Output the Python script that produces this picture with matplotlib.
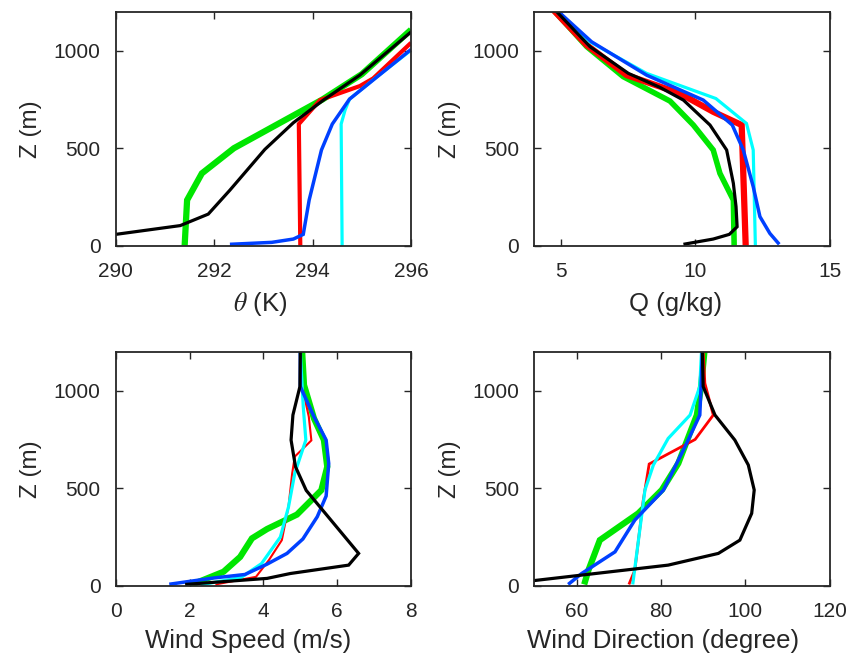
import matplotlib
matplotlib.use("Agg")
import matplotlib.pyplot as plt

plt.rcParams['font.family'] = ['Liberation Sans', 'DejaVu Sans']
plt.rcParams['mathtext.fontset'] = 'stix'

# ---- potential temperature profiles (K) vs height (m) ----
theta_black_x = [288.6, 290.0, 291.31, 291.88, 292.32, 293.03, 293.61, 294.22, 294.96, 296.0]
theta_black_z = [10, 58, 103, 162, 285, 494, 631, 747, 875, 1097]
theta_green_x = [291.4, 291.45, 291.75, 292.4, 294.2, 295.0, 296.0]
theta_green_z = [0, 234, 371, 500, 750, 880, 1108]
theta_red_x = [293.75, 293.72, 294.15, 294.96, 295.23, 296.0]
theta_red_z = [0, 624, 747, 819, 858, 1041]
theta_cyan_x = [294.6, 294.58, 294.66, 294.75, 295.3, 296.0]
theta_cyan_z = [0, 624, 696, 752, 865, 1003]
theta_blue_x = [292.32, 293.17, 293.61, 293.81, 293.93, 294.18, 294.40, 294.75, 296.0]
theta_blue_z = [7, 17, 34, 58, 234, 491, 624, 752, 1007]

# ---- specific humidity profiles (g/kg) ----
q_black_x = [9.55, 10.66, 11.26, 11.55, 11.51, 11.41, 11.16, 10.54, 9.55, 8.68, 7.50, 6.07, 4.77]
q_black_z = [7, 34, 58, 97, 200, 320, 491, 619, 747, 812, 884, 1021, 1209]
q_green_x = [11.44, 11.41, 10.91, 10.66, 9.92, 9.05, 7.31, 5.95, 4.71]
q_green_z = [0, 234, 371, 491, 619, 742, 867, 1021, 1209]
q_red_x = [11.87, 11.72, 10.66, 9.42, 7.44, 5.95, 4.71]
q_red_z = [0, 619, 687, 781, 875, 1029, 1209]
q_cyan_x = [12.23, 12.15, 11.90, 10.76, 8.18, 6.07, 4.77]
q_cyan_z = [0, 491, 627, 755, 884, 1046, 1209]
q_blue_x = [13.12, 12.77, 12.40, 12.15, 11.78, 11.37, 10.29, 8.18, 6.13, 4.83]
q_blue_z = [7, 63, 149, 303, 491, 619, 747, 875, 1046, 1209]

# ---- wind speed profiles (m/s) ----
ws_black_x = [1.88, 4.10, 4.73, 6.31, 6.58, 5.16, 4.87, 4.75, 4.80, 4.99, 5.0]
ws_black_z = [7, 38, 63, 106, 166, 489, 610, 747, 875, 1021, 1200]
ws_green_x = [2.02, 2.92, 3.37, 3.69, 4.10, 4.91, 5.57, 5.73, 5.64, 5.37, 5.10, 5.05]
ws_green_z = [3, 72, 148, 243, 291, 365, 490, 610, 747, 858, 1029, 1200]
ws_red_x = [2.7, 3.8, 4.15, 4.5, 4.68, 4.78, 4.85, 5.3, 5.23, 5.05, 5.0]
ws_red_z = [7, 46, 132, 234, 405, 576, 662, 745, 867, 1021, 1200]
ws_cyan_x = [2.3, 3.4, 3.95, 4.46, 4.68, 4.85, 5.15, 5.08, 5.0]
ws_cyan_z = [5, 43, 114, 250, 404, 576, 747, 918, 1200]
ws_blue_x = [1.45, 2.65, 3.50, 4.10, 4.64, 5.07, 5.46, 5.70, 5.77, 5.70, 5.37, 5.0, 5.0]
ws_blue_z = [8, 40, 58, 111, 166, 240, 354, 460, 627, 747, 867, 1021, 1200]

# ---- wind direction profiles (degree) ----
wd_black_x = [42.0, 49.6, 81.7, 93.6, 98.7, 101.5, 102.1, 100.7, 97.5, 92.8, 90.0, 89.8]
wd_black_z = [7, 26, 106, 166, 234, 371, 491, 619, 747, 875, 1021, 1200]
wd_green_x = [61.8, 62.8, 65.5, 74.6, 80.2, 84.1, 88.5, 89.5, 90.3]
wd_green_z = [7, 80, 234, 371, 491, 627, 875, 1021, 1200]
wd_red_x = [72.4, 73.8, 75.8, 77.2, 88.1, 92.4, 90.4, 90.0]
wd_red_z = [7, 80, 439, 624, 750, 875, 1038, 1200]
wd_cyan_x = [73.3, 76.2, 78.2, 81.7, 86.9, 89.2, 89.6]
wd_cyan_z = [7, 491, 619, 755, 875, 1021, 1200]
wd_blue_x = [58.0, 61.2, 69.1, 73.8, 80.6, 85.7, 89.2, 89.5, 89.8]
wd_blue_z = [7, 63, 174, 337, 491, 713, 875, 1021, 1200]

GREEN = '#00e600'
RED = '#ff0000'
CYAN = '#00ffff'
BLUE = '#0040ff'
BLACK = '#000000'
AXC = '#262626'

fig = plt.figure(figsize=(8.51, 6.56), dpi=100)

positions = [
    [0.136, 0.6255, 0.347, 0.3565],
    [0.628, 0.6255, 0.347, 0.3565],
    [0.136, 0.107, 0.347, 0.357],
    [0.628, 0.107, 0.347, 0.357],
]

panels = [
    dict(series=[(theta_green_x, theta_green_z, GREEN, 4.5),
                 (theta_red_x, theta_red_z, RED, 3.0),
                 (theta_cyan_x, theta_cyan_z, CYAN, 2.3),
                 (theta_blue_x, theta_blue_z, BLUE, 2.5),
                 (theta_black_x, theta_black_z, BLACK, 2.3)],
         xlim=(290, 296), xticks=[290, 292, 294, 296], xlabel=r'$\theta$ (K)',
         lx=0.49, ly=-0.25),
    dict(series=[(q_green_x, q_green_z, GREEN, 4.0),
                 (q_red_x, q_red_z, RED, 4.5),
                 (q_cyan_x, q_cyan_z, CYAN, 2.3),
                 (q_blue_x, q_blue_z, BLUE, 2.5),
                 (q_black_x, q_black_z, BLACK, 2.3)],
         xlim=(4, 15), xticks=[5, 10, 15], xlabel='Q (g/kg)',
         lx=0.477, ly=-0.25),
    dict(series=[(ws_green_x, ws_green_z, GREEN, 4.5),
                 (ws_red_x, ws_red_z, RED, 1.5),
                 (ws_cyan_x, ws_cyan_z, CYAN, 2.3),
                 (ws_blue_x, ws_blue_z, BLUE, 2.5),
                 (ws_black_x, ws_black_z, BLACK, 2.3)],
         xlim=(0, 8), xticks=[0, 2, 4, 6, 8], xlabel='Wind Speed (m/s)',
         lx=0.45, ly=-0.235),
    dict(series=[(wd_green_x, wd_green_z, GREEN, 4.5),
                 (wd_red_x, wd_red_z, RED, 2.0),
                 (wd_cyan_x, wd_cyan_z, CYAN, 2.3),
                 (wd_blue_x, wd_blue_z, BLUE, 2.5),
                 (wd_black_x, wd_black_z, BLACK, 2.3)],
         xlim=(50, 120), xticks=[60, 80, 100, 120], xlabel='Wind Direction (degree)',
         lx=0.437, ly=-0.235),
]

for pos, p in zip(positions, panels):
    ax = fig.add_axes(pos)
    for xs, zs, c, lw in p['series']:
        ax.plot(xs, zs, color=c, lw=lw, solid_joinstyle='miter', solid_capstyle='butt')
    ax.set_xlim(*p['xlim'])
    ax.set_ylim(0, 1200)
    ax.set_xticks(p['xticks'])
    ax.set_yticks([0, 500, 1000])
    ax.tick_params(direction='in', top=True, right=True, length=5, width=1.0,
                   colors=AXC, labelsize=15)
    ax.tick_params(axis='x', pad=12)
    ax.tick_params(axis='y', pad=11)
    for s in ax.spines.values():
        s.set_color(AXC)
        s.set_linewidth(1.3)
    ax.set_xlabel(p['xlabel'], fontsize=18.5, color=AXC)
    ax.xaxis.set_label_coords(p['lx'], p['ly'])
    ax.xaxis.label.set_va('center')
    ax.set_ylabel('Z (m)', fontsize=17.5, color=AXC, labelpad=8)

fig.savefig('out.png', dpi=100)
